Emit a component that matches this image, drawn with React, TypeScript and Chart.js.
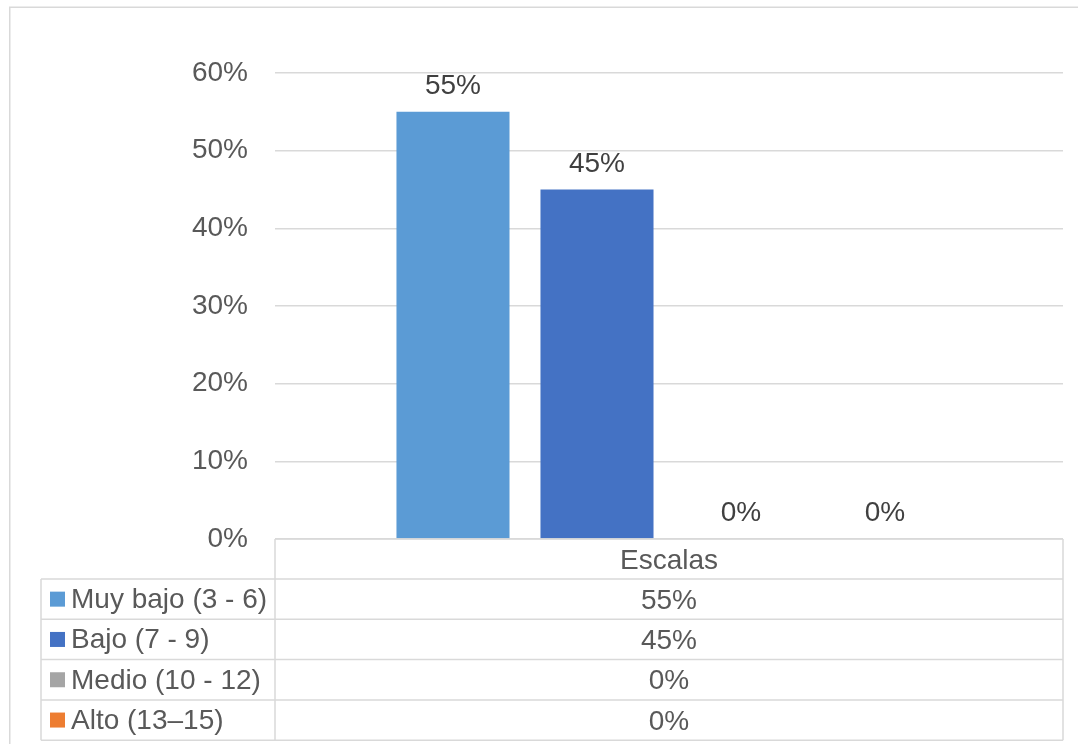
import React, { useEffect, useRef } from "react";
import { Chart, registerables } from "chart.js";

Chart.register(...registerables);

const categories = ["Escalas"];
const seriesNames = ["Muy bajo (3 - 6)", "Bajo (7 - 9)", "Medio (10 - 12)", "Alto (13–15)"];
const seriesValues = [0.55, 0.45, 0, 0];
const seriesColors = ["#5B9BD5", "#4472C4", "#A5A5A5", "#ED7D31"];
const yMin = 0;
const yMax = 0.6;
const yStep = 0.1;

const FONT = "'Liberation Sans', Arial, sans-serif";
const FONT_SIZE = 28;
const GRID = "#D9D9D9";
const TEXT = "#595959";
const LABEL = "#404040";

const pct = (v: number) => `${Math.round(v * 100)}%`;

const framePlugin = {
  id: "frame",
  beforeDraw(chart: any) {
    const ctx = chart.ctx;
    ctx.save();
    ctx.fillStyle = "#FFFFFF";
    ctx.fillRect(0, 0, chart.width, chart.height);
    ctx.strokeStyle = GRID;
    ctx.lineWidth = 1.5;
    ctx.beginPath();
    ctx.moveTo(9.75, chart.height + 5);
    ctx.lineTo(9.75, 7.25);
    ctx.lineTo(chart.width + 5, 7.25);
    ctx.stroke();
    ctx.restore();
  },
};

const labelsPlugin = {
  id: "barLabels",
  afterDatasetsDraw(chart: any) {
    const ctx = chart.ctx;
    ctx.save();
    ctx.font = `${FONT_SIZE}px ${FONT}`;
    ctx.fillStyle = LABEL;
    ctx.textAlign = "center";
    ctx.textBaseline = "alphabetic";
    chart.data.datasets.forEach((ds: any, i: number) => {
      const meta = chart.getDatasetMeta(i);
      meta.data.forEach((el: any, j: number) => {
        ctx.fillText(pct(ds.data[j]), el.x, el.y - 18);
      });
    });
    ctx.restore();
  },
};

const tablePlugin = {
  id: "dataTable",
  afterDraw(chart: any) {
    const ctx = chart.ctx;
    const { left, right, bottom } = chart.chartArea;
    const tableLeft = 41;
    const headerH = 40;
    const rowH = 40.3;
    const n = chart.data.datasets.length;
    const lastY = bottom + headerH + n * rowH;
    ctx.save();
    ctx.strokeStyle = GRID;
    ctx.lineWidth = 1.5;
    ctx.beginPath();
    ctx.moveTo(left, bottom);
    ctx.lineTo(right, bottom);
    for (let i = 0; i <= n; i++) {
      const y = bottom + headerH + i * rowH;
      ctx.moveTo(tableLeft, y);
      ctx.lineTo(right, y);
    }
    ctx.moveTo(left, bottom);
    ctx.lineTo(left, lastY);
    ctx.moveTo(right, bottom);
    ctx.lineTo(right, lastY);
    ctx.moveTo(tableLeft, bottom + headerH);
    ctx.lineTo(tableLeft, lastY);
    ctx.stroke();

    ctx.font = `${FONT_SIZE}px ${FONT}`;
    ctx.fillStyle = TEXT;
    ctx.textBaseline = "alphabetic";
    const cx = (left + right) / 2;
    ctx.textAlign = "center";
    chart.data.labels.forEach((lab: string) => {
      ctx.fillText(lab, cx, bottom + headerH / 2 + 9.5);
    });
    chart.data.datasets.forEach((ds: any, i: number) => {
      const cy = bottom + headerH + i * rowH + rowH / 2;
      ctx.textAlign = "center";
      ctx.fillStyle = TEXT;
      ctx.fillText(pct(ds.data[0]), cx, cy + 9.5);
      ctx.fillStyle = ds.backgroundColor;
      ctx.fillRect(50, cy - 7.5, 15, 15);
      ctx.fillStyle = TEXT;
      ctx.textAlign = "left";
      ctx.fillText(ds.label, 71, cy + 9);
    });
    ctx.restore();
  },
};

export default function App() {
  const ref = useRef<HTMLCanvasElement | null>(null);
  useEffect(() => {
    if (!ref.current) return;
    const chart = new Chart(ref.current, {
      type: "bar",
      data: {
        labels: categories,
        datasets: seriesNames.map((name, i) => ({
          label: name,
          data: [seriesValues[i]],
          backgroundColor: seriesColors[i],
          borderWidth: 0,
          categoryPercentage: 0.731,
          barPercentage: 0.785,
        })),
      },
      options: {
        animation: false,
        responsive: false,
        devicePixelRatio: 1,
        layout: { padding: { left: 0, right: 15, top: 73, bottom: 205 } },
        plugins: {
          legend: { display: false },
          title: { display: false },
          tooltip: { enabled: false },
        },
        scales: {
          x: { display: false },
          y: {
            min: yMin,
            max: yMax,
            afterFit(scale: any) {
              scale.width = 275;
            },
            ticks: {
              stepSize: yStep,
              padding: 27,
              color: TEXT,
              font: { family: FONT, size: FONT_SIZE },
              callback: (v: any) => pct(Number(v)),
            },
            grid: { color: GRID, lineWidth: 1.5, drawTicks: false },
            border: { display: false },
          },
        },
      },
      plugins: [framePlugin, labelsPlugin, tablePlugin],
    });
    return () => chart.destroy();
  }, []);
  return (
    <div style={{ position: "absolute", left: 0, top: 0, width: 1078, height: 744 }}>
      <canvas ref={ref} width={1078} height={744} />
    </div>
  );
}
